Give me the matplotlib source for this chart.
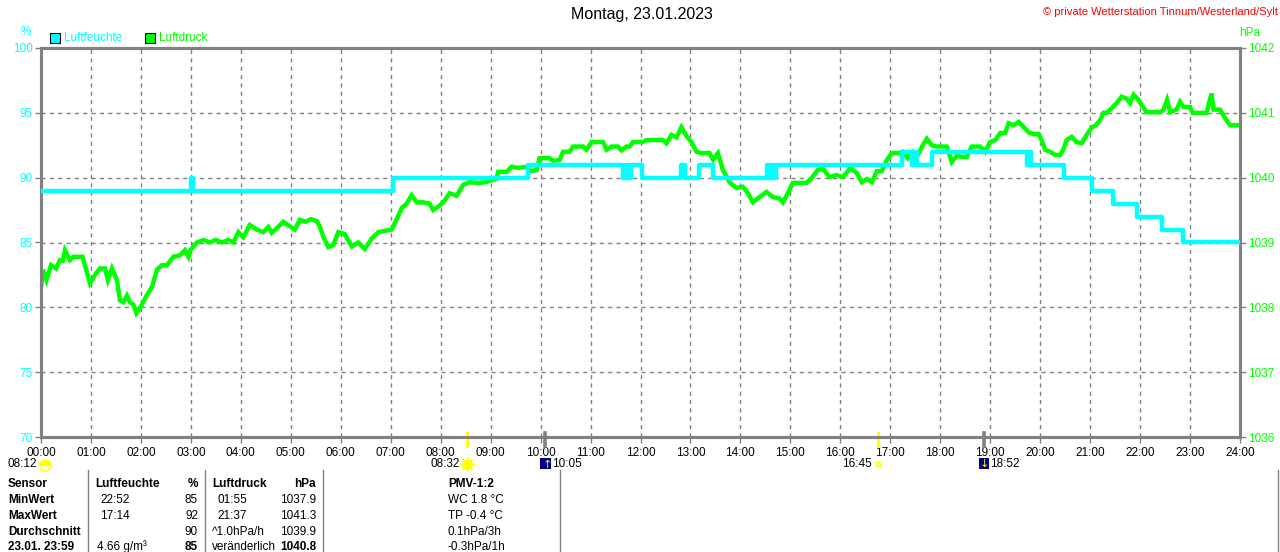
import matplotlib
matplotlib.use("Agg")
import matplotlib.pyplot as plt
from matplotlib.patches import Rectangle
from matplotlib.lines import Line2D

plt.rcParams['font.family'] = ['Liberation Sans', 'DejaVu Sans']

# ---------------- data ----------------
title = "Montag, 23.01.2023"
copyright_text = "© private Wetterstation Tinnum/Westerland/Sylt"

hour_ticks = list(range(0, 25))
hour_labels = ["%02d:00" % h for h in hour_ticks]
hum_ticks = [70, 75, 80, 85, 90, 95, 100]
pres_ticks = [1036, 1037, 1038, 1039, 1040, 1041, 1042]

# humidity (%) step series: start time in hours, value
hum_t = [0.00, 3.00, 3.05, 7.05, 9.75, 11.65, 11.70, 11.75, 11.80, 12.03,
         12.81, 12.89, 13.17, 13.45, 14.53, 14.58, 14.63, 14.68, 14.72, 15.00,
         17.23, 17.43, 17.48, 17.53, 17.83, 19.73, 19.77, 19.81, 19.86, 20.48,
         21.04, 21.46, 21.94, 22.44, 22.86, 24.00]
hum_v = [89, 90, 89, 90, 91, 90, 91, 90, 91, 90,
         91, 90, 91, 90, 91, 90, 91, 90, 91, 91,
         92, 91, 92, 91, 92, 91, 92, 91, 91, 90,
         89, 88, 87, 86, 85, 85]

# air pressure (hPa)
pres_t = [0.00, 0.04, 0.11, 0.20, 0.30, 0.38, 0.44, 0.48, 0.58, 0.65,
          0.75, 0.83, 0.88, 0.98, 1.08, 1.18, 1.28, 1.34, 1.42, 1.52,
          1.58, 1.65, 1.72, 1.78, 1.85, 1.91, 2.02, 2.12, 2.22, 2.32,
          2.42, 2.52, 2.65, 2.78, 2.88, 2.95, 2.98, 3.12, 3.25, 3.38,
          3.50, 3.62, 3.75, 3.85, 3.95, 4.05, 4.18, 4.32, 4.45, 4.55,
          4.62, 4.72, 4.85, 4.98, 5.08, 5.18, 5.30, 5.40, 5.52, 5.58,
          5.65, 5.75, 5.85, 5.95, 6.08, 6.22, 6.35, 6.48, 6.62, 6.75,
          6.88, 7.02, 7.12, 7.22, 7.32, 7.42, 7.52, 7.65, 7.78, 7.85,
          7.95, 8.05, 8.18, 8.32, 8.45, 8.58, 8.75, 8.90, 8.98, 9.12,
          9.15, 9.32, 9.42, 9.55, 9.72, 9.80, 9.92, 9.98, 10.18, 10.25,
          10.38, 10.45, 10.58, 10.65, 10.85, 10.92, 11.02, 11.25, 11.32, 11.42,
          11.55, 11.62, 11.72, 11.78, 11.85, 12.05, 12.12, 12.45, 12.52, 12.62,
          12.72, 12.82, 12.92, 13.02, 13.12, 13.22, 13.38, 13.45, 13.55, 13.65,
          13.78, 13.92, 14.05, 14.15, 14.25, 14.38, 14.52, 14.65, 14.78, 14.85,
          14.95, 15.05, 15.18, 15.32, 15.40, 15.55, 15.65, 15.78, 15.92, 16.05,
          16.15, 16.20, 16.33, 16.43, 16.53, 16.63, 16.73, 16.83, 16.93, 17.03,
          17.15, 17.25, 17.35, 17.45, 17.55, 17.65, 17.73, 17.83, 17.93, 18.13,
          18.23, 18.33, 18.43, 18.53, 18.63, 18.80, 18.90, 19.00, 19.10, 19.20,
          19.30, 19.37, 19.47, 19.57, 19.67, 19.77, 19.87, 19.97, 20.03, 20.10,
          20.20, 20.30, 20.40, 20.46, 20.53, 20.63, 20.73, 20.83, 20.93, 21.03,
          21.13, 21.20, 21.27, 21.33, 21.43, 21.53, 21.63, 21.73, 21.80, 21.87,
          21.97, 22.03, 22.13, 22.40, 22.47, 22.54, 22.60, 22.73, 22.80, 22.87,
          23.00, 23.05, 23.33, 23.43, 23.47, 23.60, 23.70, 23.80, 24.00]
pres_v = [1038.30, 1038.58, 1038.42, 1038.65, 1038.60, 1038.73, 1038.72, 1038.88, 1038.73, 1038.78,
          1038.78, 1038.78, 1038.65, 1038.37, 1038.50, 1038.60, 1038.60, 1038.42, 1038.60, 1038.42,
          1038.11, 1038.08, 1038.18, 1038.08, 1038.04, 1037.91, 1038.04, 1038.19, 1038.31, 1038.58,
          1038.65, 1038.65, 1038.78, 1038.80, 1038.88, 1038.78, 1038.87, 1039.00, 1039.04, 1039.00,
          1039.04, 1039.00, 1039.04, 1039.00, 1039.16, 1039.08, 1039.27, 1039.20, 1039.16, 1039.24,
          1039.15, 1039.22, 1039.32, 1039.25, 1039.20, 1039.35, 1039.32, 1039.36, 1039.33, 1039.25,
          1039.09, 1038.93, 1038.96, 1039.16, 1039.13, 1038.94, 1039.00, 1038.90, 1039.06, 1039.16,
          1039.18, 1039.20, 1039.36, 1039.53, 1039.60, 1039.73, 1039.62, 1039.62, 1039.60, 1039.50,
          1039.55, 1039.62, 1039.76, 1039.72, 1039.89, 1039.93, 1039.92, 1039.93, 1039.95, 1039.98,
          1040.09, 1040.09, 1040.17, 1040.15, 1040.17, 1040.10, 1040.12, 1040.30, 1040.30, 1040.26,
          1040.27, 1040.40, 1040.40, 1040.48, 1040.48, 1040.43, 1040.55, 1040.55, 1040.43, 1040.48,
          1040.48, 1040.42, 1040.48, 1040.48, 1040.55, 1040.55, 1040.58, 1040.58, 1040.53, 1040.66,
          1040.62, 1040.78, 1040.64, 1040.55, 1040.40, 1040.38, 1040.38, 1040.28, 1040.38, 1040.12,
          1039.93, 1039.84, 1039.86, 1039.76, 1039.62, 1039.70, 1039.78, 1039.70, 1039.68, 1039.62,
          1039.76, 1039.92, 1039.92, 1039.92, 1039.97, 1040.12, 1040.14, 1040.01, 1040.04, 1040.01,
          1040.10, 1040.15, 1040.07, 1039.93, 1039.98, 1039.93, 1040.10, 1040.10, 1040.27, 1040.38,
          1040.38, 1040.40, 1040.30, 1040.40, 1040.35, 1040.50, 1040.60, 1040.50, 1040.48, 1040.48,
          1040.24, 1040.34, 1040.32, 1040.32, 1040.48, 1040.48, 1040.40, 1040.55, 1040.58, 1040.69,
          1040.69, 1040.84, 1040.81, 1040.86, 1040.78, 1040.70, 1040.67, 1040.67, 1040.58, 1040.43,
          1040.40, 1040.35, 1040.35, 1040.43, 1040.58, 1040.63, 1040.55, 1040.53, 1040.66, 1040.77,
          1040.82, 1040.89, 1041.00, 1041.00, 1041.07, 1041.15, 1041.25, 1041.22, 1041.15, 1041.28,
          1041.20, 1041.12, 1041.01, 1041.01, 1041.05, 1041.20, 1041.01, 1041.05, 1041.17, 1041.09,
          1041.09, 1041.00, 1041.00, 1041.30, 1041.05, 1041.05, 1040.92, 1040.81, 1040.81]

# sun / moon events (hours)
sun_marks = [8 + 32 / 60, 16 + 45 / 60]
moon_marks = [10 + 5 / 60, 18 + 52 / 60]

# table
table_rows = [
    ["Sensor", "Luftfeuchte", "%", "Luftdruck", "hPa", "PMV-1:2"],
    ["MinWert", "22:52", "85", "01:55", "1037.9", "WC 1.8 °C"],
    ["MaxWert", "17:14", "92", "21:37", "1041.3", "TP -0.4 °C"],
    ["Durchschnitt", "", "90", "^1.0hPa/h", "1039.9", "0.1hPa/3h"],
    ["23.01. 23:59", "4.66 g/m³", "85", "veränderlich", "1040.8", "-0.3hPa/1h"],
]

# ---------------- styling ----------------
W, H = 1280, 552
CYAN = "#00FFFF"
GREEN = "#00FF00"
GRAY = "#808080"

fig = plt.figure(figsize=(W / 100, H / 100), dpi=100)
fig.patch.set_facecolor("white")


def fx(x):
    return x / W


def fy(y):
    return 1 - y / H


ax = fig.add_axes([fx(41), fy(437), 1199 / W, 389 / H])
ax2 = ax.twinx()

# pressure on main axes (right ticks), humidity on twin (left ticks, on top)
ax.set_xlim(0, 24)
ax.set_ylim(1036, 1042)
ax2.set_ylim(70, 100)

ax.plot(pres_t, pres_v, color=GREEN, lw=3.2, solid_joinstyle="miter", zorder=3)
ax2.step(hum_t, hum_v, where="post", color=CYAN, lw=3.2, zorder=4)

# grid
ax.set_xticks(hour_ticks)
ax.set_xticklabels(hour_labels)
ax.set_yticks(pres_ticks)
ax.grid(True, color=GRAY, linestyle=(0, (3, 3)), linewidth=1.0)
ax.set_axisbelow(True)

ax.yaxis.tick_right()
ax2.yaxis.tick_left()
ax2.set_yticks(hum_ticks)

for a in (ax, ax2):
    for s in a.spines.values():
        s.set_color(GRAY)
        s.set_linewidth(2.2)

ax.tick_params(axis="x", direction="out", length=4, width=1, color=GRAY,
               labelsize=8.5, labelcolor="black", pad=3)
ax.tick_params(axis="y", direction="out", length=4, width=1, color=GRAY,
               labelsize=8.5, labelcolor=GREEN, pad=2)
ax2.tick_params(axis="y", direction="out", length=4, width=1, color=GRAY,
                labelsize=8.5, labelcolor=CYAN, pad=2)

# sun / moon markers on the time axis
xt = ax.get_xaxis_transform()
for t in sun_marks:
    ax.add_line(Line2D([t, t], [0.010, -0.024], transform=xt, color="#FFFF00",
                       lw=2.2, clip_on=False, zorder=6))
for t in moon_marks:
    ax.add_line(Line2D([t, t], [0.010, -0.024], transform=xt, color=GRAY,
                       lw=2.6, clip_on=False, zorder=6))

# texts below the axis
fig.text(fx(8), fy(464), "08:12", fontsize=8.5, va="center", ha="left")
fig.lines.append(Line2D([fx(45)], [fy(465)], marker="o", markersize=8,
                        fillstyle="top", color="#FFFF00", markeredgecolor="#FFFF00",
                        linestyle="none", transform=fig.transFigure))

fig.text(fx(460), fy(464), "08:32", fontsize=8.5, va="center", ha="right")
fig.lines.append(Line2D([fx(467)], [fy(464)], marker=(8, 2, 0), markersize=10,
                        color="#FFFF00", markeredgewidth=1, linestyle="none",
                        transform=fig.transFigure))
fig.lines.append(Line2D([fx(467)], [fy(464)], marker="o", markersize=6,
                        color="#FFFF00", linestyle="none", transform=fig.transFigure))

fig.patches.append(Rectangle((fx(540), fy(469)), 11 / W, 11 / H, facecolor="#000080",
                             edgecolor="none", transform=fig.transFigure))
fig.text(fx(546), fy(464), r"$\uparrow$", fontsize=8, color="#FFFF00",
         va="center", ha="center")
fig.text(fx(552), fy(464), "10:05", fontsize=8.5, va="center", ha="left")

fig.text(fx(872), fy(464), "16:45", fontsize=8.5, va="center", ha="right")
fig.patches.append(Rectangle((fx(876), fy(466)), 4 / W, 4 / H, facecolor="white",
                             edgecolor="#FFFF00", lw=0.8, transform=fig.transFigure))

fig.patches.append(Rectangle((fx(979), fy(469)), 10 / W, 11 / H, facecolor="#000080",
                             edgecolor="none", transform=fig.transFigure))
fig.text(fx(983), fy(463), r"$\downarrow$", fontsize=8, color="#FFFF00",
         va="center", ha="center")
fig.text(fx(990), fy(464), "18:52", fontsize=8.5, va="center", ha="left")

# title & header texts
fig.text(fx(642), fy(15), title, fontsize=11.5, ha="center", va="center")
fig.text(fx(1278), fy(12), copyright_text, fontsize=8, color="red",
         ha="right", va="center")
fig.text(fx(26), fy(32), "%", fontsize=8.5, color=CYAN, ha="center", va="center")
fig.text(fx(1250), fy(33), "hPa", fontsize=8.5, color=GREEN, ha="center", va="center")

# legend
fig.patches.append(Rectangle((fx(50), fy(43)), 10 / W, 10 / H, facecolor=CYAN,
                             edgecolor="black", lw=0.8, transform=fig.transFigure))
fig.text(fx(64), fy(38), "Luftfeuchte", fontsize=8.5, color=CYAN, va="center", ha="left")
fig.patches.append(Rectangle((fx(145), fy(43)), 10 / W, 10 / H, facecolor=GREEN,
                             edgecolor="black", lw=0.8, transform=fig.transFigure))
fig.text(fx(159), fy(38), "Luftdruck", fontsize=8.5, color=GREEN, va="center", ha="left")

# table separators
for x in [88, 205, 323, 560, 1278]:
    fig.lines.append(Line2D([fx(x), fx(x)], [fy(470), fy(552)], color=GRAY, lw=1,
                            transform=fig.transFigure))

col_x = [8, 95, 198, 212, 316, 448]
col_ha = ["left", "left", "right", "left", "right", "left"]
row_y = [484, 500, 516, 532, 546.5]
bold_cells = {(4, 2), (4, 4)}
for r, row in enumerate(table_rows):
    for c, txt in enumerate(row):
        x = col_x[c]
        if r in (1, 2) and c == 1:
            x = 100
        if r in (1, 2) and c == 3:
            x = 217
        if r == 4 and c == 1:
            x = 97
        weight = "bold" if (r == 0 or c == 0 or (r, c) in bold_cells) else "normal"
        fig.text(fx(x), fy(row_y[r]), txt, fontsize=8.5, ha=col_ha[c], va="center",
                 fontweight=weight, color="black")

fig.savefig("out.png", dpi=100, facecolor="white")
